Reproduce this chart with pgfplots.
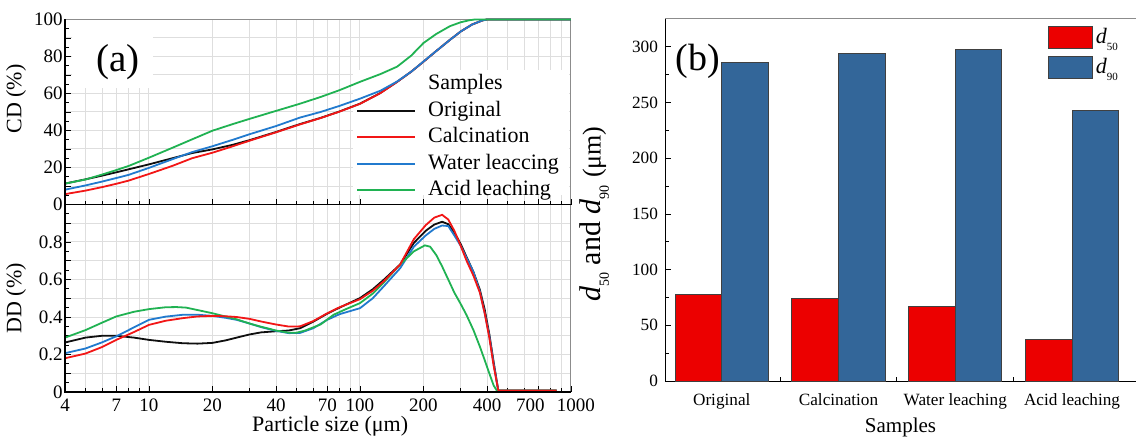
\documentclass[border=0pt]{standalone}
\usepackage{fontspec}
\setmainfont{Liberation Serif}
\usepackage{pgfplots}
\pgfplotsset{compat=1.18}
\definecolor{cblk}{RGB}{15,15,15}
\definecolor{cred}{RGB}{242,22,22}
\definecolor{cblue}{RGB}{33,122,206}
\definecolor{cgreen}{RGB}{32,178,82}
\definecolor{bred}{RGB}{236,0,0}
\definecolor{bblue}{RGB}{51,102,153}
\definecolor{gridc}{RGB}{222,222,222}
\definecolor{spine}{RGB}{140,140,140}
\pgfplotsset{
  lineleg/.style={legend image code/.code={\draw[##1] (0pt,0pt) -- (29pt,0pt);}},
  barleg/.style={legend image code/.code={\draw[##1] (0pt,-5.5pt) rectangle (22pt,5.5pt);}},
}
\begin{document}
\begin{tikzpicture}
\useasboundingbox (0,0) rectangle (569.5pt,-219pt);
% ---------- top panel (CD) ----------
\begin{axis}[scale only axis, width=253pt,
    xmode=log, xmin=4, xmax=1000,
    xtick={4,7,10,20,40,70,100,200,400,700,1000},
    minor xtick={5,6,8,9,30,50,60,80,90,300,500,600,800,900},
    xmajorgrids=true, xminorgrids=true, ymajorgrids=true,
    major grid style={gridc,line width=0.5pt},
    minor grid style={gridc,line width=0.5pt},
    tick align=inside, xtick pos=left, ytick pos=left,
    major tick length=3pt, minor tick length=2pt,
    tick style={black,line width=0.4pt},
    axis line style={draw=spine,line width=0.5pt},
    tick label style={font=\fontsize{9.5}{11}\selectfont},
    yticklabel style={inner sep=1pt},
    label style={font=\fontsize{11}{13}\selectfont},
    every axis plot/.append style={line width=0.9pt},
  clip=false,
  at={(32.5pt,-9.75pt)}, anchor=north west, height=92.5pt,
  ymin=0, ymax=100, ytick={0,10,20,30,40,50,60,70,80,90,100},
  yticklabels={0,,20,,40,,60,,80,,100},
  minor y tick num=1, xticklabels={},
  ylabel={CD (\%)}, ylabel style={at={(axis description cs:-0.063,0.57)}, anchor=south},
  lineleg,
  legend cell align=left,
  legend style={at={(axis description cs:0.571,0.73)}, anchor=north west, draw=none, fill=none,
     font=\fontsize{11}{13}\selectfont, inner sep=1pt,
     nodes={inner sep=1pt, text height=8pt, text depth=2.5pt}, row sep=0.75pt,
     /tikz/every odd column/.append style={column sep=5pt}},
  after end axis/.code={\draw[black,line width=0.6pt] (rel axis cs:0,1) -- (rel axis cs:0,0) -- (rel axis cs:1,0);},
]
\fill[white] (axis description cs:0.569,0.051) rectangle (axis description cs:0.997,0.727);
\addlegendimage{empty legend}\addlegendentry{Samples}
\addplot[cblk] coordinates {(4,11.3)(5,13.6)(6,15.6)(7,17.4)(8,19)(10,21.7)(13,25.1)(16,27.8)(20,29.8)(25,32.3)(30,34.8)(40,39.2)(52,43.5)(65,46.8)(80,50.3)(100,54.5)(125,60.3)(150,66.3)(175,71.8)(200,77.2)(230,83)(267,89)(300,93.5)(340,97.3)(380,99.5)(400,100)(1000,100)};
\addlegendentry{Original}
\addplot[cred] coordinates {(4,5.6)(5,7.5)(6,9.4)(7,11.2)(8,12.9)(10,16.5)(13,21)(16,25)(20,28)(25,31.5)(30,34.5)(40,39)(52,43.3)(65,46.7)(80,50.2)(100,54.4)(125,60.2)(150,66.3)(175,71.8)(200,77.2)(230,83)(267,89)(300,93.5)(340,97.3)(380,99.5)(400,100)(1000,100)};
\addlegendentry{Calcination}
\addplot[cblue] coordinates {(4,8)(5,10.3)(6,12.4)(7,14.3)(8,16)(10,19.8)(13,24.6)(16,28.3)(20,31.5)(25,35)(30,38)(40,42.4)(52,47)(65,50)(80,53.3)(100,57.2)(125,61.5)(150,66.5)(175,71.8)(200,77.3)(230,83)(267,89)(300,93.5)(340,97.3)(380,99.5)(400,100)(1000,100)};
\addlegendentry{Water leaccing}
\addplot[cgreen] coordinates {(4,11.3)(5,13.5)(6,16.2)(7,18.6)(8,20.8)(10,25.3)(13,30.8)(16,35.2)(20,39.9)(25,43.5)(30,46.3)(40,50.6)(52,54.5)(65,58.1)(80,61.8)(100,66.3)(125,70.5)(150,74.5)(175,80.5)(200,87.3)(230,92.2)(267,96.4)(300,98.5)(330,99.6)(350,100)(1000,100)};
\addlegendentry{Acid leaching}
\end{axis}
% ---------- bottom panel (DD) ----------
\begin{axis}[scale only axis, width=253pt,
    xmode=log, xmin=4, xmax=1000,
    xtick={4,7,10,20,40,70,100,200,400,700,1000},
    minor xtick={5,6,8,9,30,50,60,80,90,300,500,600,800,900},
    xmajorgrids=true, xminorgrids=true, ymajorgrids=true,
    major grid style={gridc,line width=0.5pt},
    minor grid style={gridc,line width=0.5pt},
    tick align=inside, xtick pos=left, ytick pos=left,
    major tick length=3pt, minor tick length=2pt,
    tick style={black,line width=0.4pt},
    axis line style={draw=spine,line width=0.5pt},
    tick label style={font=\fontsize{9.5}{11}\selectfont},
    yticklabel style={inner sep=1pt},
    label style={font=\fontsize{11}{13}\selectfont},
    every axis plot/.append style={line width=0.9pt},
  at={(32.5pt,-102.25pt)}, anchor=north west, height=93.75pt,
  ymin=0, ymax=1, ytick={0,0.1,0.2,0.3,0.4,0.5,0.6,0.7,0.8,0.9,1},
  yticklabels={0,,0.2,,0.4,,0.6,,0.8,,},
  minor y tick num=1,
  xticklabels={4,7,10,20,40,70,100,200,400,\hspace*{-8pt}700,1000\hspace*{-5pt}},
  xlabel={Particle size (μm)}, xlabel style={at={(axis description cs:0.524,-0.212)}, anchor=base, font=\fontsize{11}{13}\selectfont},
  ylabel={DD (\%)}, ylabel style={at={(axis description cs:-0.063,0.5)}, anchor=south},
  after end axis/.code={\draw[black,line width=0.6pt] (rel axis cs:1,1) -- (rel axis cs:0,1) -- (rel axis cs:0,0) -- (rel axis cs:1,0);},
]
\addplot[cblk] coordinates {(4,0.264)(5,0.29)(6,0.3)(7,0.30)(8.5,0.29)(10,0.278)(12,0.268)(14.5,0.26)(17,0.258)(20,0.262)(23,0.275)(26,0.29)(30,0.307)(34,0.318)(40,0.324)(46,0.328)(52,0.34)(60,0.375)(70,0.418)(80,0.45)(100,0.501)(115,0.548)(130,0.6)(155,0.68)(180,0.795)(205,0.86)(225,0.893)(245,0.908)(262,0.895)(280,0.85)(300,0.79)(320,0.72)(345,0.64)(370,0.545)(390,0.44)(410,0.31)(430,0.16)(452,0.01)(455,0.008)(855,0.008)};
\addplot[cblue] coordinates {(4,0.207)(5,0.232)(6,0.265)(7,0.297)(8.5,0.345)(10,0.385)(12,0.402)(14.5,0.412)(17,0.412)(20,0.406)(23,0.396)(26,0.385)(30,0.365)(34,0.346)(40,0.326)(46,0.314)(52,0.315)(60,0.34)(70,0.385)(80,0.415)(100,0.447)(115,0.5)(130,0.565)(155,0.66)(180,0.775)(205,0.835)(225,0.87)(245,0.888)(262,0.885)(280,0.835)(300,0.78)(320,0.715)(345,0.64)(370,0.535)(390,0.42)(410,0.30)(430,0.15)(452,0.01)(455,0.008)(855,0.008)};
\addplot[cgreen] coordinates {(4,0.29)(5,0.33)(6,0.37)(7,0.403)(8.5,0.428)(10,0.442)(12,0.452)(13.5,0.453)(15,0.45)(17,0.437)(20,0.42)(23,0.403)(26,0.388)(30,0.365)(34,0.348)(40,0.328)(46,0.316)(50,0.316)(55,0.328)(65,0.36)(75,0.412)(85,0.44)(100,0.474)(115,0.525)(130,0.585)(155,0.68)(180,0.75)(203,0.782)(215,0.775)(230,0.73)(245,0.67)(262,0.60)(280,0.53)(300,0.47)(320,0.41)(345,0.33)(370,0.242)(390,0.17)(410,0.10)(430,0.035)(445,0.008)(855,0.008)};
\addplot[cred] coordinates {(4,0.18)(5,0.205)(6,0.24)(7,0.278)(8.5,0.32)(10,0.358)(12,0.38)(14.5,0.394)(17,0.403)(20,0.406)(23,0.404)(26,0.4)(30,0.39)(34,0.376)(40,0.36)(46,0.349)(52,0.35)(60,0.378)(70,0.42)(80,0.452)(100,0.495)(115,0.54)(130,0.592)(155,0.68)(180,0.815)(205,0.89)(225,0.93)(245,0.945)(262,0.92)(280,0.86)(300,0.78)(320,0.70)(345,0.62)(370,0.53)(390,0.42)(410,0.29)(430,0.14)(452,0.01)(455,0.008)(855,0.008)};
\end{axis}
% ---------- right panel (bars) ----------
\begin{axis}[at={(332.5pt,-9.5pt)}, anchor=north west, scale only axis, width=235.5pt, height=181pt,
  xmin=-0.486, xmax=3.548, ymin=0, ymax=325,
  axis x line*=bottom, axis y line*=left,
  axis line style={black,line width=0.5pt},
  xtick={0,1,2,3}, xticklabels={Original,Calcination,Water leaching,Acid leaching},
  minor xtick={0.5,1.5,2.5}, major x tick style={draw=none},
  ytick={0,50,100,150,200,250,300}, minor y tick num=1,
  tick align=inside, major tick length=3pt, minor tick length=2.2pt,
  tick style={black,line width=0.4pt},
  /pgf/number format/assume math mode=true,
  tick label style={font=\fontsize{8.6}{10}\selectfont},
  xticklabel style={yshift=-2.5pt},
  xlabel={Samples}, xlabel style={at={(axis description cs:0.5,-0.141)},anchor=base, font=\fontsize{10.5}{12}\selectfont},
  ylabel={{\itshape d}\raisebox{-0.6ex}{\fontsize{7}{7}\selectfont 50} and {\itshape d}\raisebox{-0.6ex}{\fontsize{7}{7}\selectfont 90} {\fontsize{13}{14}\selectfont (μm)}},
  ylabel style={at={(axis description cs:-0.104,0.461)}, anchor=south, font=\fontsize{15}{17}\selectfont},
  legend cell align=left,
  legend style={at={(axis description cs:0.808,0.99)}, anchor=north west, draw=none, fill=none,
     font=\fontsize{11}{13}\selectfont, inner sep=1pt,
     nodes={inner sep=1.5pt}, row sep=3pt},
  after end axis/.code={\draw[spine,line width=0.5pt] (rel axis cs:0,1) -- (rel axis cs:1,1);},
]
\addplot[ybar, bar width=0.4, bar shift=-0.2, fill=bred, draw=black!75, line width=0.5pt, barleg] coordinates {(0,77.3)(1,74.3)(2,66.8)(3,37.7)};
\addplot[ybar, bar width=0.4, bar shift=0.2, fill=bblue, draw=black!75, line width=0.5pt, barleg] coordinates {(0,286)(1,294.3)(2,297.4)(3,242.6)};
\legend{{\itshape d}\raisebox{-0.7ex}{\fontsize{5.5}{6}\selectfont 50}, {\itshape d}\raisebox{-0.7ex}{\fontsize{5.5}{6}\selectfont 90}}
\end{axis}
% panel letters
\fill[white] (36pt,-10.2pt) rectangle (76.5pt,-44pt);
\node[font=\fontsize{19.5}{22}\selectfont, inner sep=0pt] at (59pt,-31pt) {(a)};
\node[font=\fontsize{19}{22}\selectfont, inner sep=0pt] at (349pt,-30.5pt) {(b)};
\end{tikzpicture}
\end{document}
